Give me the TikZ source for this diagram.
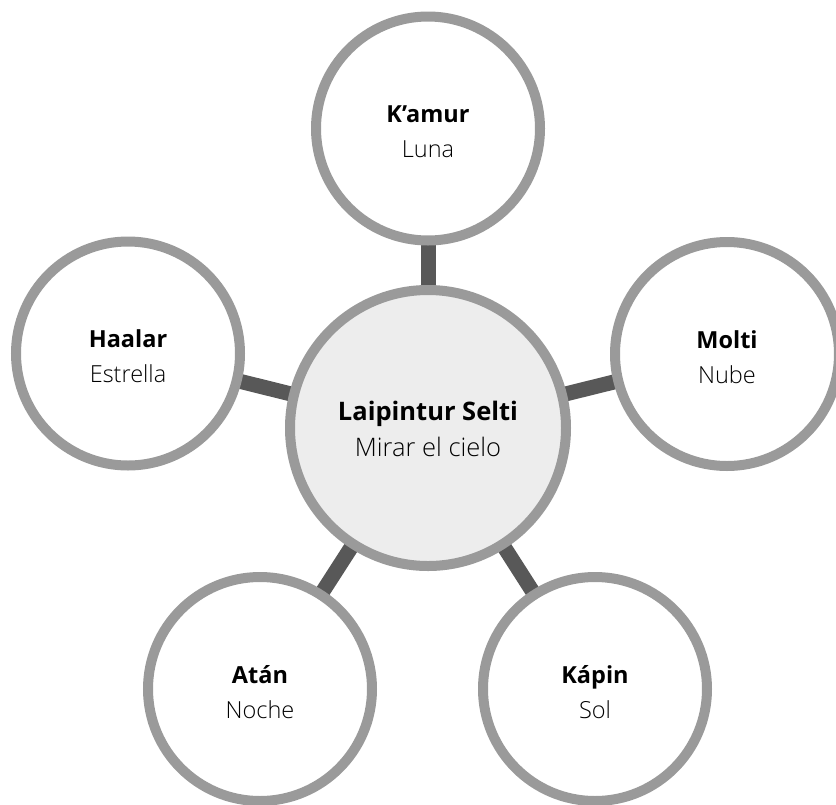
\documentclass[tikz,border=0pt]{standalone}
\usepackage{fontspec}
\setmainfont{Open Sans}
\IfFontExistsTF{Open Sans Light}{\newfontfamily\lightfont{Open Sans Light}}{\newfontfamily\lightfont{Open Sans}}
\usetikzlibrary{backgrounds}
\definecolor{ringgray}{HTML}{9A9A9A}
\definecolor{linkgray}{HTML}{585858}
\definecolor{hubfill}{HTML}{EDEDED}
\tikzset{
  leaf/.style={circle, draw=ringgray, line width=10pt, fill=white, minimum size=224pt, inner sep=0pt},
  hub/.style={circle, draw=ringgray, line width=10pt, fill=hubfill, minimum size=276pt, inner sep=0pt},
  leaftext/.style={align=center, yshift=-3pt, font=\fontsize{23.5pt}{35pt}\selectfont},
  hubtext/.style={align=center, yshift=-1pt, font=\fontsize{25.5pt}{36pt}\selectfont},
  link/.style={draw=linkgray, line width=15pt},
}
\newcommand{\lbl}[2]{\textbf{#1}\\{\lightfont #2}}
\begin{document}
\begin{tikzpicture}[x=1pt,y=-1pt]
\useasboundingbox (0,0) rectangle (836,804);
\node[hub, label={[hubtext]center:\lbl{Laipintur Selti}{Mirar el cielo}}] (hub) at (428,428) {};
\node[leaf, label={[leaftext]center:\lbl{K’amur}{Luna}}] (kamur) at (428,128.5) {};
\node[leaf, label={[leaftext]center:\lbl{Haalar}{Estrella}}] (haalar) at (128,353.5) {};
\node[leaf, label={[leaftext]center:\lbl{Molti}{Nube}}] (molti) at (727,354) {};
\node[leaf, label={[leaftext]center:\lbl{Atán}{Noche}}] (atan) at (260,689) {};
\node[leaf, label={[leaftext]center:\lbl{Kápin}{Sol}}] (kapin) at (595,689) {};
\begin{pgfonlayer}{background}
\draw[link] (hub.center) -- (kamur.center);
\draw[link] (hub.center) -- (haalar.center);
\draw[link] (hub.center) -- (molti.center);
\draw[link] (hub.center) -- (atan.center);
\draw[link] (hub.center) -- (kapin.center);
\end{pgfonlayer}
\end{tikzpicture}
\end{document}
